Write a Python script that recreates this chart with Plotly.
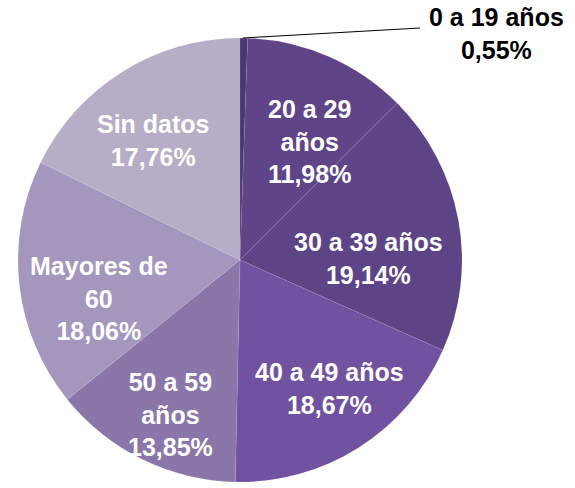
import plotly.graph_objects as go

categories = ["0 a 19 años", "20 a 29 años", "30 a 39 años", "40 a 49 años",
              "50 a 59 años", "Mayores de 60", "Sin datos"]
label_lines = ["0 a 19 años", "20 a 29<br>años", "30 a 39 años", "40 a 49 años",
               "50 a 59<br>años", "Mayores de<br>60", "Sin datos"]
values = [0.55, 11.98, 19.14, 18.67, 13.85, 18.06, 17.76]
colors = ["#4b3673", "#5f4588", "#5d4487", "#7052a0", "#8a76a8", "#a596bd", "#b6adc6"]

W, H = 575, 488
# label centers (pixels) for the labels
label_pos = [(496, 33), (309, 142), (368, 258), (329, 388), (170, 414), (99, 298), (153, 141)]

def pct(v):
    return f"{v:.2f}".replace(".", ",") + "%"

fig = go.Figure(go.Pie(
    labels=categories,
    values=values,
    sort=False,
    direction="clockwise",
    rotation=0,
    marker=dict(colors=colors, line=dict(color="rgba(255,255,255,0.15)", width=0.5)),
    textinfo="none",
    hoverinfo="label+percent",
    domain=dict(x=[18 / W, 462 / W], y=[1 - 482 / H, 1 - 38 / H]),
    showlegend=False,
))

annotations = []
for i, (lbl, v) in enumerate(zip(label_lines, values)):
    px, py = label_pos[i]
    color = "black" if i == 0 else "white"
    annotations.append(dict(
        x=px / W, y=1 - py / H, xref="paper", yref="paper",
        text=f"<b>{lbl}<br>{pct(v)}</b>", showarrow=False,
        font=dict(family="Liberation Sans, Arial, sans-serif", size=25, color=color),
        align="center", xanchor="center", yanchor="middle",
    ))

fig.update_layout(
    width=W, height=H,
    margin=dict(l=0, r=0, t=0, b=0),
    paper_bgcolor="white", plot_bgcolor="white",
    annotations=annotations,
    shapes=[dict(type="line", xref="paper", yref="paper",
                 x0=243 / W, y0=1 - 38 / H, x1=420 / W, y1=1 - 28 / H,
                 line=dict(color="black", width=1))],
)

fig.write_html("out.html", config={"displayModeBar": False},
               post_script="document.body.style.margin='0';")
